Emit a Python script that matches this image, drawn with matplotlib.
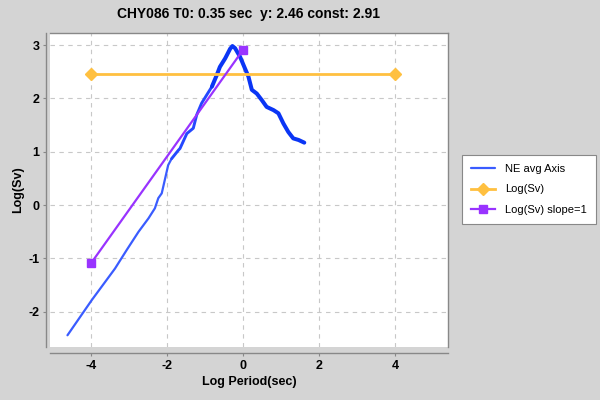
import numpy as np
import matplotlib
matplotlib.use('Agg')
import matplotlib.pyplot as plt

plt.rcParams['font.family'] = ['Liberation Sans', 'DejaVu Sans']
plt.rcParams['axes.unicode_minus'] = False

# blue curve (log period, log Sv)
ne_x = [-4.62, -3.98, -3.37, -3.06, -2.75, -2.49, -2.32, -2.23, -2.14, -2.05, -1.97,
        -1.88, -1.70, -1.66, -1.48, -1.31, -1.22, -1.09, -0.96, -0.82, -0.69, -0.61,
        -0.47, -0.34, -0.28, -0.21, -0.08, 0.05, 0.14, 0.23, 0.36, 0.49, 0.62,
        0.80, 0.93, 1.06, 1.19, 1.32, 1.46, 1.61]
ne_y = [-2.44, -1.78, -1.19, -0.84, -0.50, -0.25, -0.06, 0.13, 0.22, 0.50, 0.75,
        0.87, 1.03, 1.06, 1.34, 1.44, 1.69, 1.91, 2.06, 2.22, 2.44, 2.59,
        2.75, 2.93, 2.98, 2.94, 2.78, 2.56, 2.41, 2.16, 2.09, 1.97, 1.84,
        1.78, 1.72, 1.53, 1.37, 1.25, 1.22, 1.17]
sv_x = [-4, 4]
sv_y = [2.46, 2.46]
slope_x = [-4, 0]
slope_y = [-1.09, 2.91]

title = 'CHY086 T0: 0.35 sec  y: 2.46 const: 2.91'

fig = plt.figure(figsize=(6, 4), dpi=100, facecolor='#d4d4d4')
ax = fig.add_axes([0.0833, 0.1325, 0.6633, 0.785])
ax.set_facecolor('white')

nx = np.array(ne_x)
ny = np.array(ne_y)
# line looks thicker where the samples get dense
parts = [(nx <= -1.88, 1.6, '#3a5cff'), ((nx >= -1.88) & (nx <= -0.82), 2.1, '#2448ff'),
         (nx >= -0.82, 2.9, '#0a35f5')]
first = True
for m, lw, c in parts:
    ax.plot(nx[m], ny[m], color=c, lw=lw, solid_capstyle='round', solid_joinstyle='round',
            label='NE avg Axis' if first else None)
    first = False
ax.plot(sv_x, sv_y, color='#ffc040', lw=2, marker='D', ms=6.5, label='Log(Sv)')
ax.plot(slope_x, slope_y, color='#9933ff', lw=1.6, marker='s', ms=5.5, label='Log(Sv) slope=1')

ax.set_xlim(-5.08, 5.39)
ax.set_ylim(-2.66, 3.225)
for s in ax.spines.values():
    s.set_color('#888888')
    s.set_linewidth(1.0)
ax.spines['left'].set_position(('outward', 3))
ax.spines['bottom'].set_position(('outward', 4))

ax.set_xticks([-4, -2, 0, 2, 4])
ax.set_yticks([-2, -1, 0, 1, 2, 3])
ax.grid(True, ls=(0, (4, 4)), color='#c8c8c8', lw=0.8)
ax.tick_params(labelsize=9, length=2, color='#888888', width=0.8)
ax.tick_params(axis='y', pad=2.5)
for t in ax.get_xticklabels() + ax.get_yticklabels():
    t.set_fontweight('bold')

ax.set_title(title, fontsize=10, fontweight='bold', pad=11)
ax.set_xlabel('Log Period(sec)', fontsize=9, fontweight='bold', labelpad=3)
ax.set_ylabel('Log(Sv)', fontsize=9, fontweight='bold', labelpad=3)

h, l = ax.get_legend_handles_labels()
leg = fig.legend(h, l, loc='upper left', bbox_to_anchor=(0.77, 0.6125),
                 fontsize=8, frameon=True, fancybox=False, edgecolor='#888888',
                 facecolor='white', framealpha=1, handlelength=2.2,
                 borderpad=0.8, labelspacing=0.95, handletextpad=0.9,
                 borderaxespad=0)
leg.get_frame().set_linewidth(0.8)

fig.savefig('out.png', dpi=100, facecolor=fig.get_facecolor())
